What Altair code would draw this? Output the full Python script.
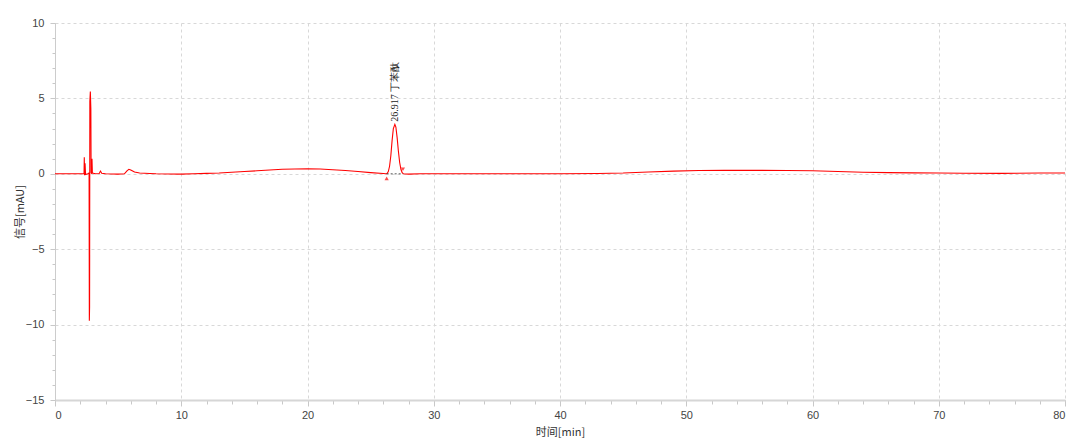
import altair as alt
import pandas as pd

# Chromatogram trace (time in min, signal in mAU)
times = [0.0, 2.2, 2.30, 2.32, 2.34, 2.38, 2.42, 2.60, 2.70, 2.72, 2.74, 2.76, 2.80, 2.84, 2.86,
         2.90, 2.93, 2.96, 3.2, 3.5, 3.6, 3.7, 4.0, 5.0, 5.5, 5.7, 5.85, 6.0, 6.3, 6.7, 7.5,
         8.0, 10.0, 11.0, 12.0, 13.0, 14.0, 15.0, 16.0, 17.0, 18.0, 19.0, 20.0, 21.0, 22.0,
         23.0, 24.0, 25.0, 26.0, 26.2, 26.3, 26.4, 26.5, 26.6, 26.7, 26.8, 26.92, 27.0, 27.1,
         27.2, 27.3, 27.4, 27.5, 27.6, 28.0, 29.0, 30.0, 35.0, 40.0, 43.0, 45.0, 47.0, 49.0,
         51.0, 53.0, 55.0, 58.0, 60.0, 62.0, 64.0, 66.0, 68.0, 70.0, 72.0, 75.0, 78.0, 80.0]
signal = [0.0, 0.0, 0.0, 1.1, -0.1, 0.7, -0.05, 0.0, 0.05, -9.75, -8.8, 4.8, 5.45, 4.3, 0.1,
          0.0, 1.0, 0.05, 0.0, 0.02, 0.18, 0.03, 0.0, -0.02, 0.0, 0.2, 0.3, 0.25, 0.12, 0.05, 0.02,
          0.0, -0.02, 0.0, 0.03, 0.05, 0.1, 0.15, 0.2, 0.25, 0.3, 0.32, 0.33, 0.32, 0.27,
          0.22, 0.15, 0.08, 0.02, 0.0, 0.02, 0.15, 0.5, 1.2, 2.2, 3.0, 3.28, 3.1, 2.4,
          1.5, 0.75, 0.3, 0.08, 0.0, -0.02, 0.0, 0.0, 0.0, 0.0, 0.02, 0.05, 0.12, 0.18,
          0.22, 0.23, 0.23, 0.22, 0.2, 0.15, 0.1, 0.08, 0.06, 0.05, 0.04, 0.03, 0.05, 0.05]

# Peak annotation
peak_time = [26.917]
peak_label_y = [3.45]
peak_label = ["26.917 丁苯酞"]

# Integration start/end markers
marker_time = [26.27, 27.56]
marker_y = [-0.3, 0.3]
marker_shape = ["triangle-up", "triangle-down"]
baseline_time = [26.27, 27.56]
baseline_y = [0.0, 0.0]

x_major = [0, 10, 20, 30, 40, 50, 60, 70, 80]
x_minor = list(range(0, 81, 2))
y_major = [-15, -10, -5, 0, 5, 10]
y_minor = list(range(-15, 11))

trace = pd.DataFrame({"t": times, "s": signal, "i": list(range(len(times)))})
labels = pd.DataFrame({"t": peak_time, "s": peak_label_y, "txt": peak_label})
markers = pd.DataFrame({"t": marker_time, "s": marker_y, "shape": marker_shape})
base = pd.DataFrame({"t": baseline_time, "s": baseline_y})

xscale = alt.Scale(domain=[0, 80], nice=False, zero=False)
yscale = alt.Scale(domain=[-15, 10], nice=False, zero=False)

grid_col = "#d8d8d8"
label_col = "#444444"

x_axis = alt.Axis(values=x_major, orient="bottom", title="时间[min]", grid=True,
                  gridColor=grid_col, gridDash=[3, 3], gridWidth=1,
                  domainColor="#d6d6d6", domainWidth=2, tickColor="#c8c8c8",
                  tickSize=6, labelColor=label_col, labelFontSize=11,
                  labelFont="Liberation Sans", labelPadding=3,
                  titleFont="Noto Sans CJK SC", titleFontSize=11,
                  titleFontWeight="normal", titleColor="#333333", titlePadding=6)
y_axis = alt.Axis(values=y_major, orient="left", title="信号[mAU]", grid=True,
                  gridColor=grid_col, gridDash=[3, 3], gridWidth=1,
                  domainColor="#cccccc", domainWidth=1, tickColor="#c8c8c8",
                  tickSize=5, labelColor=label_col, labelFontSize=11,
                  labelFont="Liberation Sans", labelPadding=6,
                  titleFont="Noto Sans CJK SC", titleFontSize=11,
                  titleFontWeight="normal", titleColor="#333333", titlePadding=0)
x_axis_minor = alt.Axis(values=x_minor, orient="bottom", labels=False, title=None,
                        grid=False, domain=False, tickColor="#c8c8c8", tickSize=4)
y_axis_minor = alt.Axis(values=y_minor, orient="left", labels=False, title=None,
                        grid=False, domain=False, tickColor="#c8c8c8", tickSize=3)

line = alt.Chart(trace).mark_line(color="#ff0000", strokeWidth=1.1).encode(
    x=alt.X("t:Q", scale=xscale, axis=x_axis),
    y=alt.Y("s:Q", scale=yscale, axis=y_axis),
    order="i:Q",
)

minor = alt.Chart(base).mark_point(opacity=0).encode(
    x=alt.X("t:Q", scale=xscale, axis=x_axis_minor),
    y=alt.Y("s:Q", scale=yscale, axis=y_axis_minor),
)

base_line = alt.Chart(base).mark_line(color="#333333", strokeWidth=0.8, strokeDash=[2, 2]).encode(
    x=alt.X("t:Q", scale=xscale, axis=None), y=alt.Y("s:Q", scale=yscale, axis=None))

mk = alt.Chart(markers).mark_point(filled=True, color="#ff0000", size=18).encode(
    x=alt.X("t:Q", scale=xscale, axis=None), y=alt.Y("s:Q", scale=yscale, axis=None),
    shape=alt.Shape("shape:N", scale=None))

txt = alt.Chart(labels).mark_text(angle=270, align="left", baseline="middle",
                                  font="Liberation Serif", fontSize=10, color="#222222").encode(
    x=alt.X("t:Q", scale=xscale, axis=None), y=alt.Y("s:Q", scale=yscale, axis=None),
    text="txt:N")

chart = alt.layer(minor, line, base_line, mk, txt).resolve_axis(
    x="independent", y="independent"
).properties(
    width=1010, height=377,
    autosize=alt.AutoSizeParams(type="none"),
    padding={"left": 47, "top": 15, "right": 7, "bottom": 40},
    background="white",
).configure_view(stroke=None)

chart.save("out.html", embed_options={"renderer": "svg", "actions": False})
